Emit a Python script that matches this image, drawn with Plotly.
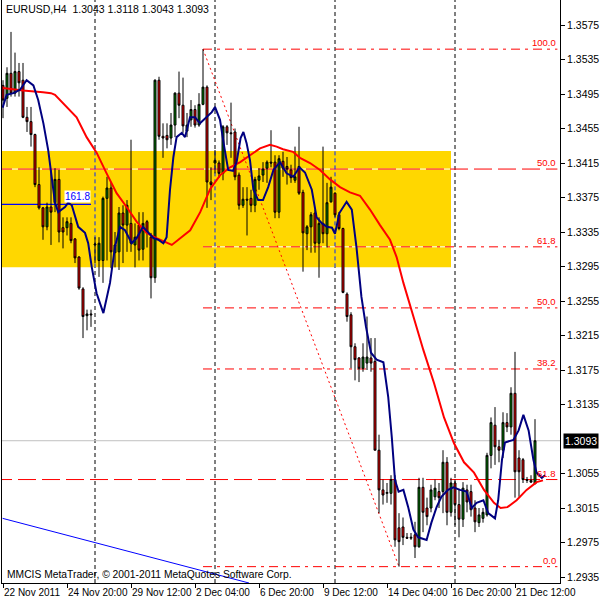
import plotly.graph_objects as go

# ---------------- data ----------------
OPEN = [1.3505, 1.3490, 1.3519, 1.3496, 1.3521, 1.3511, 1.3468, 1.3463, 1.3448, 1.3390,
        1.3363, 1.3341, 1.3364, 1.3369, 1.3396, 1.3340, 1.3340, 1.3345, 1.3327, 1.3306,
        1.3269, 1.3238, 1.3240, 1.3320, 1.3302, 1.3302, 1.3374, 1.3386, 1.3311, 1.3312,
        1.3357, 1.3343, 1.3345, 1.3320, 1.3343, 1.3315, 1.3347, 1.3329, 1.3282, 1.3511,
        1.3446, 1.3447, 1.3444, 1.3459, 1.3496, 1.3482, 1.3452, 1.3465, 1.3477, 1.3459,
        1.3483, 1.3503, 1.3393, 1.3415, 1.3415, 1.3403, 1.3457, 1.3450, 1.3451, 1.3401,
        1.3366, 1.3373, 1.3374, 1.3366, 1.3395, 1.3401, 1.3409, 1.3416, 1.3416, 1.3358,
        1.3417, 1.3411, 1.3407, 1.3395, 1.3411, 1.3381, 1.3333, 1.3341, 1.3357, 1.3322,
        1.3345, 1.3333, 1.3370, 1.3380, 1.3355, 1.3339, 1.3263, 1.3239, 1.3202, 1.3189,
        1.3177, 1.3183, 1.3189, 1.3185, 1.3082, 1.3036, 1.3032, 1.3032, 1.3048, 1.2992,
        1.2993, 1.2981, 1.2980, 1.2984, 1.2970, 1.3039, 1.3015, 1.3015, 1.3028, 1.3034,
        1.3034, 1.3068, 1.3010, 1.3044, 1.3019, 1.3002, 1.3036, 1.3034, 1.3015, 1.2998,
        1.3003, 1.3007, 1.3076, 1.3111, 1.3086, 1.3082, 1.3114, 1.3109, 1.3148, 1.3073,
        1.3071, 1.3048, 1.3047, 1.3043]
HIGH = [1.3511, 1.3526, 1.3567, 1.3543, 1.3531, 1.3531, 1.3480, 1.3480, 1.3449, 1.3410,
        1.3364, 1.3369, 1.3407, 1.3409, 1.3407, 1.3352, 1.3352, 1.3352, 1.3328, 1.3307,
        1.3271, 1.3245, 1.3245, 1.3329, 1.3329, 1.3376, 1.3399, 1.3393, 1.3335, 1.3364,
        1.3366, 1.3372, 1.3442, 1.3345, 1.3358, 1.3358, 1.3349, 1.3334, 1.3512, 1.3515,
        1.3461, 1.3461, 1.3473, 1.3497, 1.3521, 1.3514, 1.3473, 1.3488, 1.3482, 1.3496,
        1.3547, 1.3505, 1.3410, 1.3430, 1.3418, 1.3459, 1.3459, 1.3485, 1.3455, 1.3404,
        1.3387, 1.3387, 1.3384, 1.3399, 1.3409, 1.3416, 1.3418, 1.3453, 1.3424, 1.3424,
        1.3428, 1.3422, 1.3413, 1.3434, 1.3457, 1.3384, 1.3343, 1.3358, 1.3361, 1.3352,
        1.3434, 1.3392, 1.3399, 1.3381, 1.3358, 1.3340, 1.3265, 1.3242, 1.3206, 1.3190,
        1.3206, 1.3237, 1.3212, 1.3212, 1.3100, 1.3048, 1.3044, 1.3053, 1.3053, 1.3009,
        1.3004, 1.2986, 1.2986, 1.2999, 1.3050, 1.3050, 1.3027, 1.3042, 1.3048, 1.3044,
        1.3082, 1.3074, 1.3050, 1.3048, 1.3036, 1.3045, 1.3042, 1.3042, 1.3024, 1.3015,
        1.3015, 1.3079, 1.3120, 1.3132, 1.3094, 1.3126, 1.3125, 1.3155, 1.3196, 1.3082,
        1.3073, 1.3051, 1.3053, 1.3118]
LOW = [1.3467, 1.3480, 1.3492, 1.3492, 1.3492, 1.3467, 1.3451, 1.3434, 1.3387, 1.3361,
       1.3326, 1.3337, 1.3320, 1.3358, 1.3323, 1.3316, 1.3331, 1.3322, 1.3299, 1.3268,
       1.3212, 1.3221, 1.3225, 1.3299, 1.3283, 1.3276, 1.3302, 1.3293, 1.3294, 1.3291,
       1.3299, 1.3312, 1.3312, 1.3294, 1.3302, 1.3302, 1.3317, 1.3258, 1.3276, 1.3442,
       1.3421, 1.3432, 1.3436, 1.3445, 1.3467, 1.3450, 1.3445, 1.3457, 1.3456, 1.3457,
       1.3482, 1.3363, 1.3372, 1.3403, 1.3398, 1.3395, 1.3436, 1.3421, 1.3395, 1.3361,
       1.3363, 1.3331, 1.3358, 1.3358, 1.3384, 1.3393, 1.3392, 1.3410, 1.3351, 1.3351,
       1.3399, 1.3390, 1.3392, 1.3392, 1.3378, 1.3289, 1.3314, 1.3311, 1.3311, 1.3282,
       1.3322, 1.3317, 1.3369, 1.3352, 1.3337, 1.3264, 1.3231, 1.3177, 1.3163, 1.3161,
       1.3173, 1.3175, 1.3173, 1.3082, 1.3009, 1.3019, 1.3021, 1.3019, 1.2970, 1.2947,
       1.2972, 1.2980, 1.2978, 1.2957, 1.2969, 1.2987, 1.2995, 1.3010, 1.3024, 1.3015,
       1.3009, 1.2995, 1.3005, 1.2995, 1.2981, 1.2993, 1.3010, 1.3005, 1.2987, 1.2993,
       1.2998, 1.3005, 1.3061, 1.3065, 1.3068, 1.3073, 1.3103, 1.3100, 1.3027, 1.3028,
       1.3044, 1.3044, 1.3044, 1.3043]
CLOSE = [1.3488, 1.3519, 1.3496, 1.3521, 1.3508, 1.3468, 1.3463, 1.3448, 1.3390, 1.3363,
         1.3341, 1.3364, 1.3358, 1.3396, 1.3335, 1.3335, 1.3347, 1.3325, 1.3305, 1.3270,
         1.3237, 1.3240, 1.3239, 1.3321, 1.3322, 1.3374, 1.3386, 1.3312, 1.3320, 1.3357,
         1.3343, 1.3366, 1.3322, 1.3329, 1.3314, 1.3345, 1.3334, 1.3282, 1.3511, 1.3446,
         1.3444, 1.3442, 1.3459, 1.3496, 1.3482, 1.3458, 1.3459, 1.3477, 1.3459, 1.3483,
         1.3503, 1.3393, 1.3390, 1.3418, 1.3403, 1.3457, 1.3450, 1.3449, 1.3399, 1.3366,
         1.3373, 1.3372, 1.3366, 1.3396, 1.3400, 1.3408, 1.3416, 1.3415, 1.3358, 1.3420,
         1.3409, 1.3408, 1.3398, 1.3399, 1.3380, 1.3334, 1.3341, 1.3355, 1.3322, 1.3345,
         1.3333, 1.3369, 1.3387, 1.3355, 1.3339, 1.3265, 1.3237, 1.3202, 1.3187, 1.3177,
         1.3190, 1.3190, 1.3183, 1.3082, 1.3036, 1.3030, 1.3033, 1.3048, 1.2978, 1.2976,
         1.2981, 1.2980, 1.2981, 1.2970, 1.3039, 1.3010, 1.3005, 1.3036, 1.3038, 1.3027,
         1.3068, 1.3010, 1.3044, 1.3019, 1.3002, 1.3038, 1.3022, 1.3013, 1.2999, 1.3007,
         1.3010, 1.3076, 1.3114, 1.3086, 1.3082, 1.3114, 1.3109, 1.3148, 1.3057, 1.3057,
         1.3048, 1.3047, 1.3045, 1.3093]
BARS = list(range(len(OPEN)))

# slow moving average (red) at bar positions
RED_MA_X = [0, 5, 10, 12, 13, 16, 18.4, 20.9, 23.4, 25.9, 28.4, 30.9, 33.4, 35.9, 38.4,
            42.2, 44.3, 46.8, 49.3, 51.8, 54.3, 56.8, 59.3, 61.75, 64.25, 66.75, 68.4, 70,
            72.5, 74.25, 76.75, 79.25, 81.75, 84.25, 86.75, 89.25, 91.75, 94.25, 96.75, 98.4,
            100.1, 102.6, 105.1, 107.75, 110.25, 112.75, 115.25, 117.75, 120.25, 122.75,
            124.4, 126.1, 128.4, 130.9, 133.4, 135]
RED_MA_Y = [1.3502, 1.3499, 1.3497, 1.3496, 1.3494, 1.3480, 1.3468, 1.3445, 1.3427, 1.3403,
            1.3380, 1.3364, 1.3347, 1.3334, 1.3328, 1.3320, 1.3328, 1.3337, 1.3358, 1.3385,
            1.3401, 1.3410, 1.3416, 1.3424, 1.3432, 1.3436, 1.3434, 1.3431, 1.3428, 1.3421,
            1.3415, 1.3407, 1.3396, 1.3387, 1.3381, 1.3377, 1.3361, 1.3343, 1.3326, 1.3306,
            1.3276, 1.3237, 1.3198, 1.3160, 1.3120, 1.3090, 1.3068, 1.3056, 1.3036, 1.3021,
            1.3015, 1.3016, 1.3024, 1.3036, 1.3045, 1.3047]

# fast moving average (navy)
BLUE_MA_X = [-0.1, 0.9, 2.6, 4.25, 5.9, 7.6, 8.8, 10.1, 11.3, 12.2, 13, 13.8, 15.5, 16.3, 17.2,
             18.8, 20.5, 21.3, 22.2, 23.4, 25.1, 26.75, 28, 29.25, 30.5, 32.2, 33.4, 35, 36.3,
             37.6, 38.8, 40.1, 40.9, 41.75, 42.6, 43.4, 44.7, 45.5, 46.75, 48, 49.25, 50.5,
             52.2, 53, 54.25, 55.3, 56.3, 57.5, 58.4, 59.4, 60.1, 60.9, 61.75, 62.6, 63.8, 65,
             66.3, 67.6, 69.25, 70.9, 72.6, 74.1, 75.5, 77.2, 78.4, 79.75, 81, 82.25, 83, 84.1,
             85.9, 87.2, 88.4, 89.6, 90.75, 92, 93.4, 95.1, 96.3, 97.2, 98, 98.9, 100.1, 101.3,
             102.6, 103.8, 105.9, 107.1, 108.4, 109.6, 111.25, 112.6, 114.25, 115.9, 117.2,
             118.4, 120.1, 121.3, 123, 123.8, 124.75, 125.5, 127.6, 128.9, 130.1, 131.4,
             132.6, 133.4, 134.7, 135.5]
BLUE_MA_Y = [1.3479, 1.3494, 1.3496, 1.3500, 1.3511, 1.3505, 1.3488, 1.3461, 1.3430, 1.3395,
             1.3369, 1.3358, 1.3364, 1.3369, 1.3366, 1.3341, 1.3334, 1.3322, 1.3294, 1.3264,
             1.3241, 1.3276, 1.3318, 1.3341, 1.3337, 1.3322, 1.3328, 1.3341, 1.3334, 1.3328,
             1.3326, 1.3322, 1.3329, 1.3384, 1.3422, 1.3445, 1.3450, 1.3445, 1.3468, 1.3468,
             1.3461, 1.3467, 1.3474, 1.3480, 1.3465, 1.3434, 1.3407, 1.3406, 1.3416, 1.3444,
             1.3451, 1.3438, 1.3418, 1.3384, 1.3372, 1.3372, 1.3387, 1.3407, 1.3416, 1.3403,
             1.3399, 1.3410, 1.3404, 1.3384, 1.3352, 1.3345, 1.3341, 1.3340, 1.3333, 1.3357,
             1.3370, 1.3361, 1.3316, 1.3260, 1.3225, 1.3195, 1.3187, 1.3184, 1.3144, 1.3097,
             1.3047, 1.3034, 1.3036, 1.3016, 1.2990, 1.2981, 1.2978, 1.2998, 1.3016, 1.3028,
             1.3036, 1.3039, 1.3036, 1.3034, 1.3015, 1.3021, 1.3024, 1.3009, 1.3003, 1.3024,
             1.3071, 1.3091, 1.3094, 1.3105, 1.3123, 1.3105, 1.3071, 1.3056, 1.3050, 1.3053]

X_TICK_BARS = [0, 16, 32, 48, 64, 80, 96, 112, 128]
X_TICK_TEXT = ["22 Nov 2011", "24 Nov 20:00", "29 Nov 12:00", "2 Dec 04:00", "6 Dec 20:00",
               "9 Dec 12:00", "14 Dec 04:00", "16 Dec 20:00", "21 Dec 12:00"]
Y_TICKS = [1.3575, 1.3535, 1.3495, 1.3455, 1.3415, 1.3375, 1.3335, 1.3295, 1.3255,
           1.3215, 1.3175, 1.3135, 1.3055, 1.3015, 1.2975, 1.2935]
WEEK_SEPARATORS = [23, 53, 83, 113]

BID = 1.3093
TITLE = "EURUSD,H4  1.3043 1.3118 1.3043 1.3093"
WATERMARK = "MMCIS MetaTrader, © 2001-2011 MetaQuotes Software Corp."

# chart objects
ZONE_BARS = [-2, 112]
ZONE_PRICES = [1.3294, 1.3429]
FIBO_A_BARS = [50, 99]          # anchor bars (high, low)
FIBO_A_PRICES = [1.3547, 1.2947]
FIBO_A_LEVELS = [0.0, 38.2, 50.0, 61.8, 100.0]
FIBO_B_LEVELS = [50.0, 61.8]
FIBO_B_PRICES = [1.3408, 1.3048]
BLUE_FIBO_LEVEL = "161.8"
BLUE_FIBO_PRICE = 1.3367
BLUE_FIBO_END = 22
BLUE_TREND_BARS = [-0.1, 61.5]
BLUE_TREND_PRICES = [1.3003, 1.2928]

X_RANGE = [-0.25, 139.25]
Y_RANGE = [1.292804, 1.3604]
RIGHT_END = 138.6

FONT = "Liberation Sans, Arial, sans-serif"
GOLD = "#FFD700"
RED = "#FF0000"

# ---------------- figure ----------------
fig = go.Figure()

fig.add_trace(go.Candlestick(
    x=BARS, open=OPEN, high=HIGH, low=LOW, close=CLOSE,
    increasing=dict(line=dict(color="black", width=1), fillcolor="#008000"),
    decreasing=dict(line=dict(color="black", width=1), fillcolor="#FF0000"),
    whiskerwidth=0, showlegend=False, hoverinfo="skip"))

fig.add_trace(go.Scatter(x=RED_MA_X, y=RED_MA_Y, mode="lines",
                         line=dict(color=RED, width=2), showlegend=False, hoverinfo="skip"))
fig.add_trace(go.Scatter(x=BLUE_MA_X, y=BLUE_MA_Y, mode="lines",
                         line=dict(color="#000080", width=2), showlegend=False, hoverinfo="skip"))

shapes = []


def hline(x0, x1, y, color, width=1, dash="solid"):
    shapes.append(dict(type="line", xref="x", yref="y", x0=x0, x1=x1, y0=y, y1=y,
                       line=dict(color=color, width=width, dash=dash), layer="below"))


def vline(x, y0, y1, color, dash, yref="y"):
    shapes.append(dict(type="line", xref="x", yref=yref, x0=x, x1=x, y0=y0, y1=y1,
                       line=dict(color=color, width=1, dash=dash), layer="below"))


# yellow zone
shapes.append(dict(type="rect", xref="x", yref="y", x0=ZONE_BARS[0], x1=ZONE_BARS[1],
                   y0=ZONE_PRICES[0], y1=ZONE_PRICES[1], fillcolor=GOLD,
                   line=dict(width=0), layer="below"))

# fibo A levels
fa_hi, fa_lo = FIBO_A_PRICES
fibo_a_prices = [fa_lo + lv / 100.0 * (fa_hi - fa_lo) for lv in FIBO_A_LEVELS]
for lv, pr in zip(FIBO_A_LEVELS, fibo_a_prices):
    if ZONE_PRICES[0] <= pr <= ZONE_PRICES[1]:
        hline(FIBO_A_BARS[0], ZONE_BARS[1], pr, "white")
    hline(FIBO_A_BARS[0], RIGHT_END, pr, RED, 1, "9px,5px,3px,5px")

# fibo B levels (full width dashed)
for pr in FIBO_B_PRICES:
    if ZONE_PRICES[0] <= pr <= ZONE_PRICES[1]:
        hline(ZONE_BARS[0], ZONE_BARS[1], pr, "white")
    hline(X_RANGE[0] - 2, RIGHT_END, pr, RED, 1, "18px,6px")

# blue fibo 161.8 line
hline(X_RANGE[0] - 2, BLUE_FIBO_END, BLUE_FIBO_PRICE, "#0000FF", 1.3)

# week separators
for b in WEEK_SEPARATORS:
    vline(b, 0, 1, "black", "4px,3px", yref="paper")
    if ZONE_BARS[0] <= b <= ZONE_BARS[1]:
        vline(b, ZONE_PRICES[0], ZONE_PRICES[1], "#0028FF", "4px,3px")

# fibo A trend line (dotted)
shapes.append(dict(type="line", xref="x", yref="y", x0=FIBO_A_BARS[0], y0=FIBO_A_PRICES[0],
                   x1=FIBO_A_BARS[1], y1=FIBO_A_PRICES[1],
                   line=dict(color=RED, width=1, dash="2px,3px"), layer="below"))
# blue trend line
shapes.append(dict(type="line", xref="x", yref="y", x0=BLUE_TREND_BARS[0], y0=BLUE_TREND_PRICES[0],
                   x1=BLUE_TREND_BARS[1], y1=BLUE_TREND_PRICES[1],
                   line=dict(color="#0000FF", width=1), layer="below"))
# bid line
hline(X_RANGE[0] - 2, X_RANGE[1] + 2, BID, "#C0C0C0")

annotations = []
lab_font = dict(family=FONT, size=9.5, color=RED)
for lv, pr in zip(FIBO_A_LEVELS, fibo_a_prices):
    annotations.append(dict(x=RIGHT_END, y=pr, xref="x", yref="y", text=f"{lv:.1f}",
                            showarrow=False, xanchor="right", yanchor="bottom",
                            font=lab_font, borderpad=0))
for lv, pr in zip(FIBO_B_LEVELS, FIBO_B_PRICES):
    annotations.append(dict(x=RIGHT_END, y=pr, xref="x", yref="y", text=f"{lv:.1f}",
                            showarrow=False, xanchor="right", yanchor="bottom",
                            font=lab_font, borderpad=0))
annotations.append(dict(x=BLUE_FIBO_END, y=BLUE_FIBO_PRICE, xref="x", yref="y",
                        text=BLUE_FIBO_LEVEL, showarrow=False, xanchor="right",
                        yanchor="bottom", yshift=1, bgcolor="white", borderpad=0,
                        font=dict(family=FONT, size=10, color="#0000FF")))
annotations.append(dict(x=0, y=1, xref="paper", yref="paper", text=TITLE, showarrow=False,
                        xanchor="left", yanchor="top", xshift=2, yshift=-1,
                        font=dict(family=FONT, size=10.5, color="black")))
annotations.append(dict(x=0, y=0, xref="paper", yref="paper", text=WATERMARK, showarrow=False,
                        xanchor="left", yanchor="bottom", xshift=3, yshift=1,
                        font=dict(family=FONT, size=10.3, color="black")))
annotations.append(dict(x=1, y=BID, xref="paper", yref="y", text=f"{BID:.4f}", showarrow=False,
                        xanchor="left", yanchor="middle", xshift=3, bgcolor="black",
                        borderpad=1, font=dict(family=FONT, size=10.5, color="white")))

fig.update_layout(
    width=600, height=600,
    margin=dict(l=2, r=40, t=0, b=17, autoexpand=False),
    paper_bgcolor="white", plot_bgcolor="white",
    shapes=shapes, annotations=annotations,
    showlegend=False, hovermode=False,
    xaxis=dict(range=X_RANGE, rangeslider=dict(visible=False), showgrid=False, zeroline=False,
               showline=True, linecolor="black", linewidth=1, automargin=False,
               tickmode="array", tickvals=X_TICK_BARS, ticktext=X_TICK_TEXT, tickangle=0,
               ticks="outside", ticklen=4, tickcolor="black",
               ticklabelposition="outside right",
               tickfont=dict(family=FONT, size=10, color="black")),
    yaxis=dict(range=Y_RANGE, side="right", showgrid=False, zeroline=False,
               showline=True, mirror=True, linecolor="black", linewidth=1, automargin=False,
               tickmode="array", tickvals=Y_TICKS, ticktext=[f"{v:.4f}" for v in Y_TICKS],
               ticks="outside", ticklen=4, tickcolor="black",
               tickfont=dict(family=FONT, size=10.5, color="black")),
)

fig.write_html("out.html", config={"displayModeBar": False},
               post_script="document.body.style.margin='0';document.body.style.overflow='hidden';")
